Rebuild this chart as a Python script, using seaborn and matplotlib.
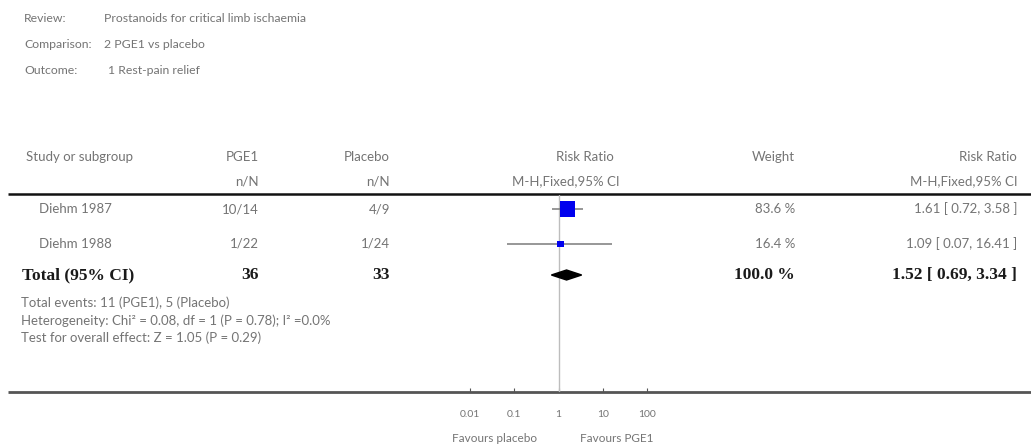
import matplotlib
matplotlib.use("Agg")
import matplotlib.pyplot as plt
from matplotlib.patches import Polygon
import seaborn as sns
import pandas as pd

# ---------------- data ----------------
review = "Prostanoids for critical limb ischaemia"
comparison = "2 PGE1 vs placebo"
outcome = "1 Rest-pain relief"

studies = ["Diehm 1987", "Diehm 1988"]
pge1_nN = ["10/14", "1/22"]
placebo_nN = ["4/9", "1/24"]
rr = [1.61, 1.09]
ci_low = [0.72, 0.07]
ci_high = [3.58, 16.41]
weights = [83.6, 16.4]
rr_text = ["1.61 [ 0.72, 3.58 ]", "1.09 [ 0.07, 16.41 ]"]

total_pge1 = "36"
total_placebo = "33"
total_rr = 1.52
total_low = 0.69
total_high = 3.34
total_weight = "100.0 %"
total_rr_text = "1.52 [ 0.69, 3.34 ]"

footnotes = ["Total events: 11 (PGE1), 5 (Placebo)",
             "Heterogeneity: Chi\u00b2 = 0.08, df = 1 (P = 0.78); I\u00b2 =0.0%",
             "Test for overall effect: Z = 1.05 (P = 0.29)"]
ticks = [0.01, 0.1, 1, 10, 100]
tick_labels = ["0.01", "0.1", "1", "10", "100"]
favours = ["Favours placebo", "Favours PGE1"]

# ---------------- style ----------------
sns.set_theme(style="white")
plt.rcParams["font.family"] = ["Lato", "DejaVu Sans"]
GREY = "#747474"
DARK = "#1a1a1a"
FS = 9.5
BOLD = dict(family=["Liberation Serif", "DejaVu Serif"], fontweight="bold",
            fontsize=12.5, color=DARK)

W, H, DPI = 1031, 448, 100
fig = plt.figure(figsize=(W / DPI, H / DPI), dpi=DPI)
fig.patch.set_facecolor("white")

bg = fig.add_axes([0, 0, 1, 1])
bg.set_xlim(0, W)
bg.set_ylim(H, 0)
bg.axis("off")

def t(x, y, s, ha="left", **kw):
    opts = dict(fontsize=FS, color=GREY, va="center", ha=ha)
    opts.update(kw)
    bg.text(x, y, s, **opts)

# title block
TF = 8.8
t(24, 19, "Review:", fontsize=TF)
t(104, 19, review, fontsize=TF)
t(24, 45, "Comparison:", fontsize=TF)
t(104, 45, comparison, fontsize=TF)
t(24, 71, "Outcome:", fontsize=TF)
t(108, 71, outcome, fontsize=TF)

# header
hy1, hy2 = 157, 181
t(26, hy1, "Study or subgroup")
t(259, hy1, "PGE1", ha="right")
t(259, hy2, "n/N", ha="right")
t(390, hy1, "Placebo", ha="right")
t(390, hy2, "n/N", ha="right")
t(614, hy1, "Risk Ratio", ha="right")
t(620, hy2, "M-H,Fixed,95% CI", ha="right")
t(795, hy1, "Weight", ha="right")
t(1017, hy1, "Risk Ratio", ha="right")
t(1017, hy2, "M-H,Fixed,95% CI", ha="right")
bg.plot([8, 1031], [194, 194], color="#111111", lw=1.8, solid_capstyle="butt")

# rows
first_row, spacing = 209, 35
row_y = [first_row + i * spacing for i in range(len(studies))]
for i, y in enumerate(row_y):
    t(39, y, studies[i])
    t(259, y, pge1_nN[i], ha="right")
    t(390, y, placebo_nN[i], ha="right")
    t(795, y, f"{weights[i]:.1f} %", ha="right")
    t(1017, y, rr_text[i], ha="right")

total_y = row_y[-1] + 31
bg.text(22, total_y, "Total (95% CI)", ha="left", va="center", **BOLD)
bg.text(259, total_y, total_pge1, ha="right", va="center", **BOLD)
bg.text(390, total_y, total_placebo, ha="right", va="center", **BOLD)
bg.text(795, total_y, total_weight, ha="right", va="center", **BOLD)
bg.text(1017, total_y, total_rr_text, ha="right", va="center", **BOLD)

for j, s in enumerate(footnotes):
    t(21, 303 + j * 17.5, s, fontsize=9.5)

# bottom rule
axis_y = 392
bg.plot([8, 1031], [axis_y, axis_y], color="#555555", lw=2, solid_capstyle="butt")

# ---------------- forest panel ----------------
x0, x1 = 470, 647
top = 195
ax = fig.add_axes([x0 / W, 1 - axis_y / H, (x1 - x0) / W, (axis_y - top) / H])
ax.set_facecolor("none")
ax.set_xscale("log")
ax.set_xlim(ticks[0], ticks[-1])
ax.set_ylim(axis_y, top)
for sp in ax.spines.values():
    sp.set_visible(False)
ax.set_yticks([])
ax.set_xticks(ticks)
ax.set_xticklabels(tick_labels)
ax.minorticks_off()
ax.tick_params(axis="x", direction="in", length=3, width=0.8, color="#555555",
               labelsize=7.5, labelcolor=GREY, pad=13, bottom=True)
ax.grid(False)

ax.axvline(1, color="#bdbdbd", lw=1.0, zorder=1)

df = pd.DataFrame({"study": studies, "rr": rr, "lo": ci_low, "hi": ci_high,
                   "w": weights, "row": row_y})
ax.hlines(df["row"], df["lo"], df["hi"], color="#7a7a7a", lw=1.1, zorder=2)
sns.scatterplot(data=df, x="rr", y="row", size="w", sizes=(0, 150),
                size_norm=(0, 100), marker="s", color="#0000ee",
                edgecolor="none", legend=False, ax=ax, zorder=3)
ax.set_xlabel("")
ax.set_ylabel("")

dh = 5
ax.add_patch(Polygon([(total_low, total_y), (total_rr, total_y - dh),
                      (total_high, total_y), (total_rr, total_y + dh)],
                     closed=True, facecolor="black", edgecolor="black", zorder=3))

bg.text(537, 438, favours[0], ha="right", va="center", fontsize=8.5, color=GREY)
bg.text(580, 438, favours[1], ha="left", va="center", fontsize=8.5, color=GREY)

fig.savefig("out.png", dpi=DPI, facecolor="white")
